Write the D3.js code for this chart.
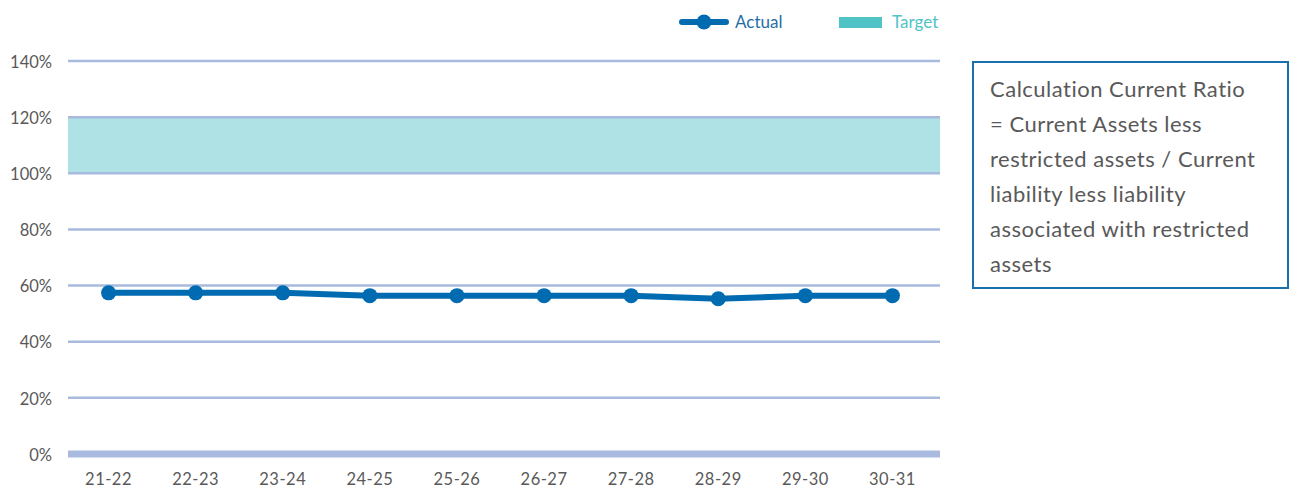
<!DOCTYPE html>
<html>
<head>
<meta charset="utf-8">
<script src="https://cdn.jsdelivr.net/npm/d3@7"></script>
<style>
  body { margin: 0; background: #fff; }
  svg { font-family: "Lato", "Noto Sans", sans-serif; }
</style>
</head>
<body>
<svg id="chart" width="1290" height="488"></svg>
<script>
// data
var years = ["21-22", "22-23", "23-24", "24-25", "25-26", "26-27", "27-28", "28-29", "29-30", "30-31"];
var actual = [57.4, 57.4, 57.4, 56.4, 56.4, 56.4, 56.4, 55.3, 56.4, 56.4];
var target = [100, 120];
var yTicks = [0, 20, 40, 60, 80, 100, 120, 140];
var noteLines = ["Calculation Current Ratio", "= Current Assets less", "restricted assets / Current", "liability less liability", "associated with restricted", "assets"];

var colors = {line: "#006bb0", target: "#aee2e4", targetKey: "#4fc3c6", grid: "#a9badf", text: "#595959"};

var svg = d3.select("#chart");

var x = d3.scaleBand()
    .domain(years)
    .range([65, 936]);

var y = d3.scaleLinear()
    .domain([0, 140])
    .range([454, 61]);

// target band
svg.append("rect")
    .attr("x", 68)
    .attr("width", 940 - 68)
    .attr("y", y(target[1]))
    .attr("height", y(target[0]) - y(target[1]))
    .attr("fill", colors.target);

// gridlines
svg.append("g")
    .selectAll("line")
    .data(yTicks)
  .enter().append("line")
    .attr("x1", 68)
    .attr("x2", 940)
    .attr("y1", function(d) { return y(d); })
    .attr("y2", function(d) { return y(d); })
    .attr("stroke", colors.grid)
    .attr("stroke-width", function(d) { return d == 0 ? 7 : 2.5; });

// y axis labels
var yAxis = svg.append("g")
    .attr("transform", "translate(52,0)")
    .call(d3.axisLeft(y).tickValues(yTicks).tickSize(0).tickFormat(function(d) { return d + "%"; }));
yAxis.select(".domain").remove();
yAxis.selectAll("text")
    .attr("x", 0)
    .attr("dy", "0.38em")
    .attr("fill", colors.text)
    .style("font-size", "16.5px")
    .style("font-family", "Lato, 'Noto Sans', sans-serif");

// x axis labels
var xAxis = svg.append("g")
    .attr("transform", "translate(0,465)")
    .call(d3.axisBottom(x).tickSize(0));
xAxis.select(".domain").remove();
xAxis.selectAll("text")
    .attr("y", 8)
    .attr("dy", "0.71em")
    .attr("fill", colors.text)
    .style("font-size", "16.5px")
    .style("letter-spacing", "0.5px")
    .style("font-family", "Lato, 'Noto Sans', sans-serif");

// actual line
var line = d3.line()
    .x(function(d, i) { return x(years[i]) + x.bandwidth() / 2; })
    .y(function(d) { return y(d); });

svg.append("path")
    .datum(actual)
    .attr("d", line)
    .attr("fill", "none")
    .attr("stroke", colors.line)
    .attr("stroke-width", 6)
    .attr("stroke-linejoin", "round");

svg.append("g")
    .selectAll("circle")
    .data(actual)
  .enter().append("circle")
    .attr("cx", function(d, i) { return x(years[i]) + x.bandwidth() / 2; })
    .attr("cy", function(d) { return y(d); })
    .attr("r", 7.5)
    .attr("fill", colors.line);

// legend
var legend = svg.append("g");
legend.append("line")
    .attr("x1", 682).attr("x2", 726)
    .attr("y1", 22).attr("y2", 22)
    .attr("stroke", colors.line)
    .attr("stroke-width", 6)
    .attr("stroke-linecap", "round");
legend.append("circle")
    .attr("cx", 704).attr("cy", 22).attr("r", 7.5)
    .attr("fill", colors.line);
legend.append("text")
    .attr("x", 735).attr("y", 28)
    .attr("fill", "#1f6ea8")
    .style("font-size", "17px")
    .text("Actual");
legend.append("rect")
    .attr("x", 839).attr("y", 17)
    .attr("width", 43).attr("height", 11)
    .attr("fill", colors.targetKey);
legend.append("text")
    .attr("x", 892).attr("y", 28)
    .attr("fill", colors.targetKey)
    .style("font-size", "17px")
    .text("Target");

// note box
var note = svg.append("g");
note.append("rect")
    .attr("x", 973).attr("y", 62)
    .attr("width", 315).attr("height", 226)
    .attr("fill", "#fff")
    .attr("stroke", "#1a6fae")
    .attr("stroke-width", 2);
note.append("g")
    .selectAll("text")
    .data(noteLines)
  .enter().append("text")
    .attr("x", 990)
    .attr("y", function(d, i) { return 97 + i * 35; })
    .attr("fill", colors.text)
    .style("font-size", "22px")
    .style("letter-spacing", "0.5px")
    .text(function(d) { return d; });
</script>
</body>
</html>
